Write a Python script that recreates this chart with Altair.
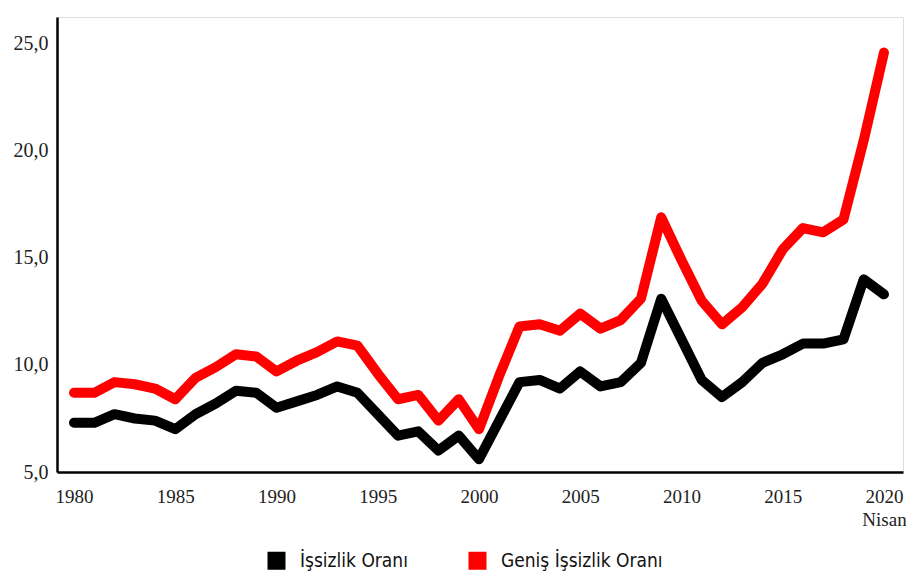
import altair as alt
import pandas as pd

years = list(range(1980, 2021))
issizlik = [7.3, 7.3, 7.7, 7.5, 7.4, 7.0, 7.7, 8.2, 8.8, 8.7, 8.0, 8.3, 8.6, 9.0, 8.7,
            7.7, 6.7, 6.9, 6.0, 6.7, 5.6, 7.4, 9.2, 9.3, 8.9, 9.7, 9.0, 9.2, 10.1, 13.1,
            11.2, 9.3, 8.5, 9.2, 10.1, 10.5, 11.0, 11.0, 11.2, 14.0, 13.3]
genis = [8.7, 8.7, 9.2, 9.1, 8.9, 8.4, 9.4, 9.9, 10.5, 10.4, 9.7, 10.2, 10.6, 11.1, 10.9,
         9.6, 8.4, 8.6, 7.4, 8.4, 7.0, 9.5, 11.8, 11.9, 11.6, 12.4, 11.7, 12.1, 13.1, 16.9,
         14.9, 13.0, 11.9, 12.7, 13.8, 15.4, 16.4, 16.2, 16.8, 20.5, 24.6]
series_names = ["İşsizlik Oranı", "Geniş İşsizlik Oranı"]
series_colors = ["#000000", "#ff0000"]
x_ticks = [1980, 1985, 1990, 1995, 2000, 2005, 2010, 2015, 2020]
y_ticks = [5, 10, 15, 20, 25]

rows = []
for name, vals in zip(series_names, [issizlik, genis]):
    for y, v in zip(years, vals):
        rows.append({"Yıl": y, "Oran": v, "Seri": name})
df = pd.DataFrame(rows)

serif = "Liberation Serif"
narrow = "Liberation Sans Narrow, DejaVu Sans Condensed, Liberation Sans, sans-serif"

x_enc = alt.X("Yıl:Q",
              scale=alt.Scale(domain=[1979.16, 2020.94], nice=False, zero=False),
              axis=alt.Axis(values=x_ticks, format="d", title=None, grid=False,
                            ticks=False, domainColor="#000000", domainWidth=2.5,
                            labelFont=serif, labelFontSize=19, labelColor="#222222",
                            labelPadding=15, labelLineHeight=23, labelBound=False,
                            labelOverlap=False,
                            labelExpr="datum.value == 2020 ? ['2020', 'Nisan'] : datum.label"))
y_enc = alt.Y("Oran:Q",
              scale=alt.Scale(domain=[5, 26.26], nice=False, zero=False),
              axis=alt.Axis(values=y_ticks, title=None, grid=False, ticks=False,
                            domainColor="#000000", domainWidth=2.5,
                            labelFont=serif, labelFontSize=20, labelColor="#222222",
                            labelPadding=9,
                            labelExpr="replace(format(datum.value, '.1f'), '.', ',')"))

lines = alt.Chart(df).mark_line(strokeWidth=10, strokeJoin="round", strokeCap="round").encode(
    x=x_enc,
    y=y_enc,
    stroke=alt.Stroke("Seri:N", scale=alt.Scale(domain=series_names, range=series_colors),
                      legend=None),
    detail="Seri:N",
)

legend_pts = alt.Chart(df).mark_square(size=0, opacity=1).encode(
    x=x_enc,
    y=y_enc,
    fill=alt.Fill("Seri:N", scale=alt.Scale(domain=series_names, range=series_colors),
                  sort=series_names,
                  legend=alt.Legend(title=None, orient="none", direction="horizontal",
                                    legendX=210, legendY=534,
                                    symbolType="square", symbolSize=324,
                                    symbolStrokeWidth=0,
                                    labelFont=narrow, labelFontSize=19, labelLimit=400,
                                    labelColor="#111111", labelOffset=14,
                                    columnPadding=60)),
)

chart = alt.layer(legend_pts, lines).properties(
    width=846, height=455,
    autosize=alt.AutoSizeParams(type="none"),
    padding={"left": 49, "top": 9, "right": 3, "bottom": 99},
).configure_view(stroke=None).configure(background="#ffffff")

chart.save("out.html", embed_options={"renderer": "svg", "actions": False})
